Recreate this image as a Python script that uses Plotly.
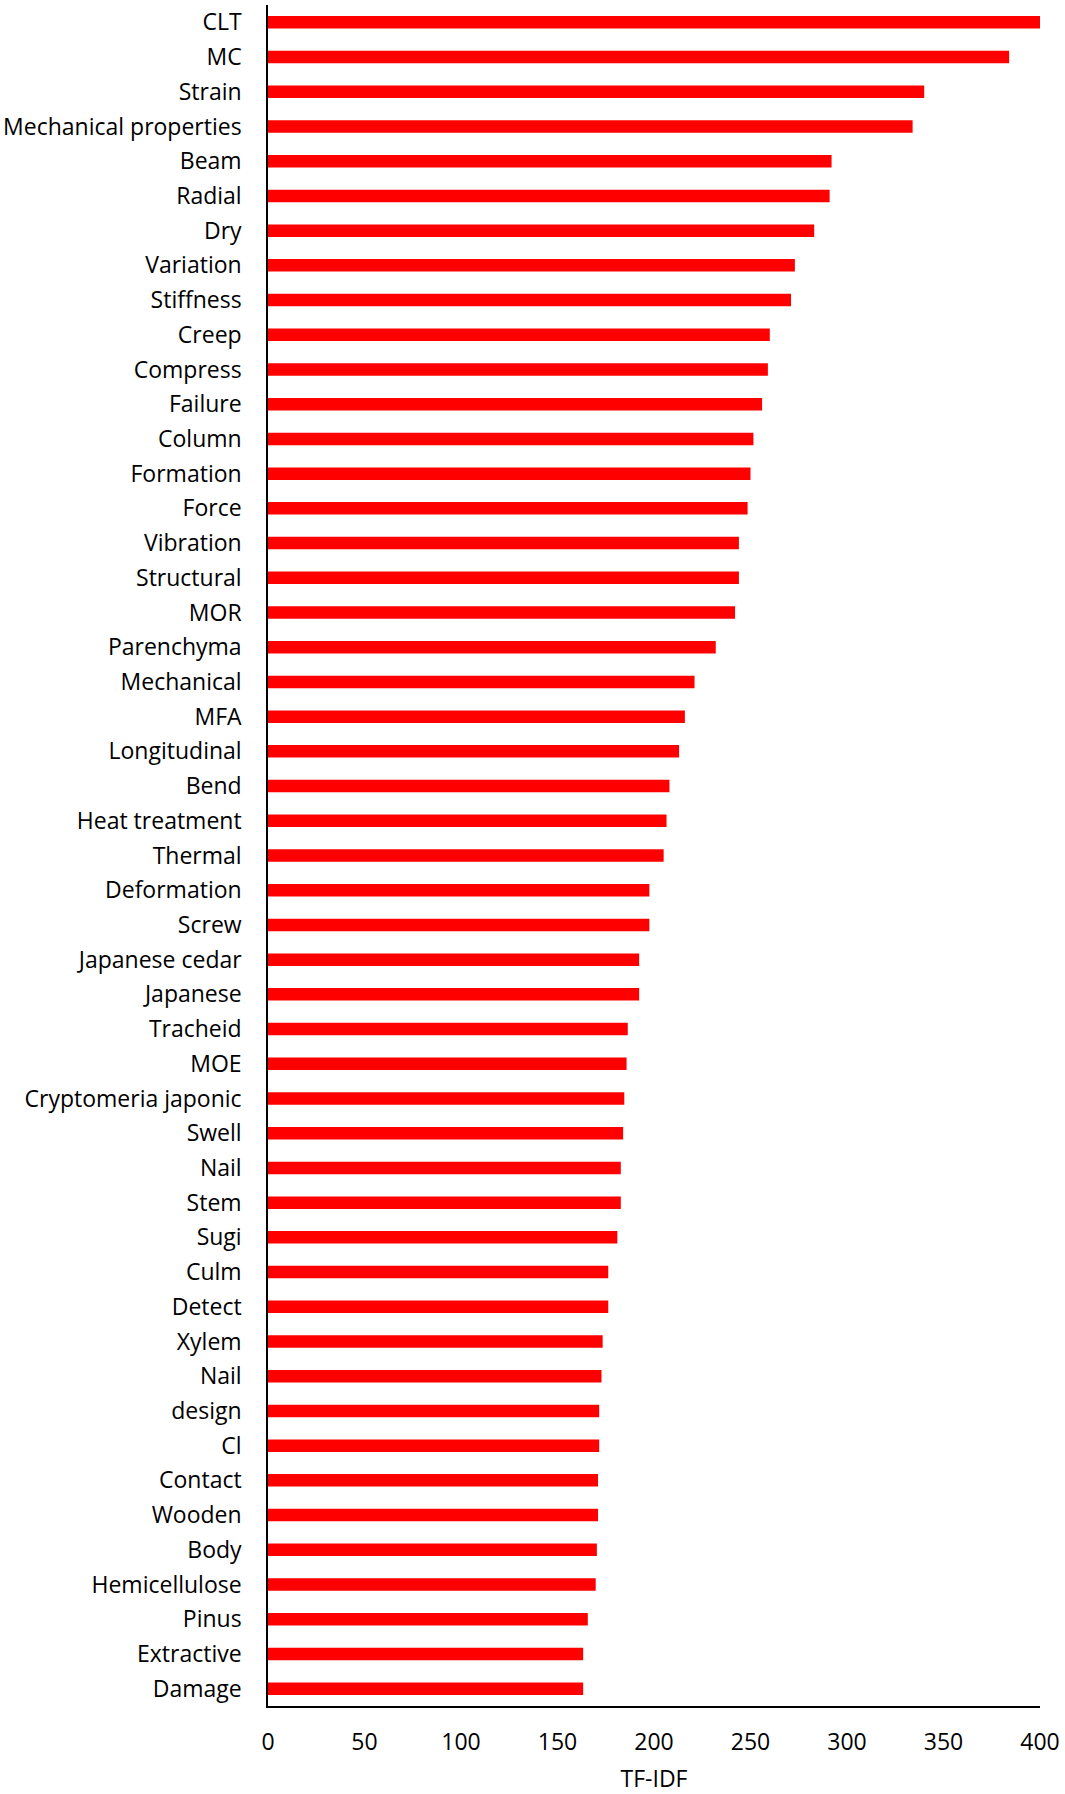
import plotly.graph_objects as go

terms = ["CLT", "MC", "Strain", "Mechanical properties", "Beam", "Radial", "Dry",
         "Variation", "Stiffness", "Creep", "Compress", "Failure", "Column",
         "Formation", "Force", "Vibration", "Structural", "MOR", "Parenchyma",
         "Mechanical", "MFA", "Longitudinal", "Bend", "Heat treatment", "Thermal",
         "Deformation", "Screw", "Japanese cedar", "Japanese", "Tracheid", "MOE",
         "Cryptomeria japonic", "Swell", "Nail", "Stem", "Sugi", "Culm", "Detect",
         "Xylem", "Nail", "design", "Cl", "Contact", "Wooden", "Body",
         "Hemicellulose", "Pinus", "Extractive", "Damage"]

tfidf = [400, 384, 340, 334, 292, 291, 283, 273, 271, 260, 259, 256, 251.5,
         250, 248.5, 244, 244, 242, 232, 221, 216, 213, 208, 206.5, 205,
         197.6, 197.6, 192.3, 192.3, 186.4, 185.8, 184.6, 184, 182.8, 182.8,
         181, 176.3, 176.3, 173.4, 172.8, 171.6, 171.6, 171, 171, 170.4,
         169.8, 165.7, 163.3, 163.3]

x_ticks = [0, 50, 100, 150, 200, 250, 300, 350, 400]

positions = list(range(len(terms)))

fig = go.Figure(go.Bar(
    x=tfidf,
    y=positions,
    orientation="h",
    marker=dict(color="#FF0000", line=dict(width=0)),
    width=0.36,
))

font_family = "Open Sans"
fs = 23

fig.update_layout(
    width=1065,
    height=1794,
    margin=dict(l=268, r=25, t=5, b=88),
    plot_bgcolor="white",
    paper_bgcolor="white",
    showlegend=False,
    font=dict(family=font_family, size=fs, color="#000000"),
    xaxis=dict(
        range=[0, 400],
        tickvals=x_ticks,
        ticktext=[str(v) for v in x_ticks],
        showgrid=False,
        zeroline=False,
        showline=True,
        linecolor="#000000",
        linewidth=1.5,
        ticks="",
        ticklabelstandoff=15,
        tickfont=dict(family=font_family, size=fs, color="#000000"),
        title=dict(text="TF-IDF", standoff=17,
                   font=dict(family=font_family, size=fs, color="#000000")),
        automargin=False,
        fixedrange=True,
    ),
    yaxis=dict(
        range=[len(terms) - 0.5, -0.5],
        tickvals=positions,
        ticktext=terms,
        showgrid=False,
        zeroline=False,
        showline=True,
        linecolor="#000000",
        linewidth=1.5,
        ticks="",
        ticklabelstandoff=20,
        tickfont=dict(family=font_family, size=fs, color="#000000"),
        automargin=False,
        fixedrange=True,
    ),
)

fig.write_html("out.html", config={"displayModeBar": False},
               post_script="document.body.style.margin='0';")
